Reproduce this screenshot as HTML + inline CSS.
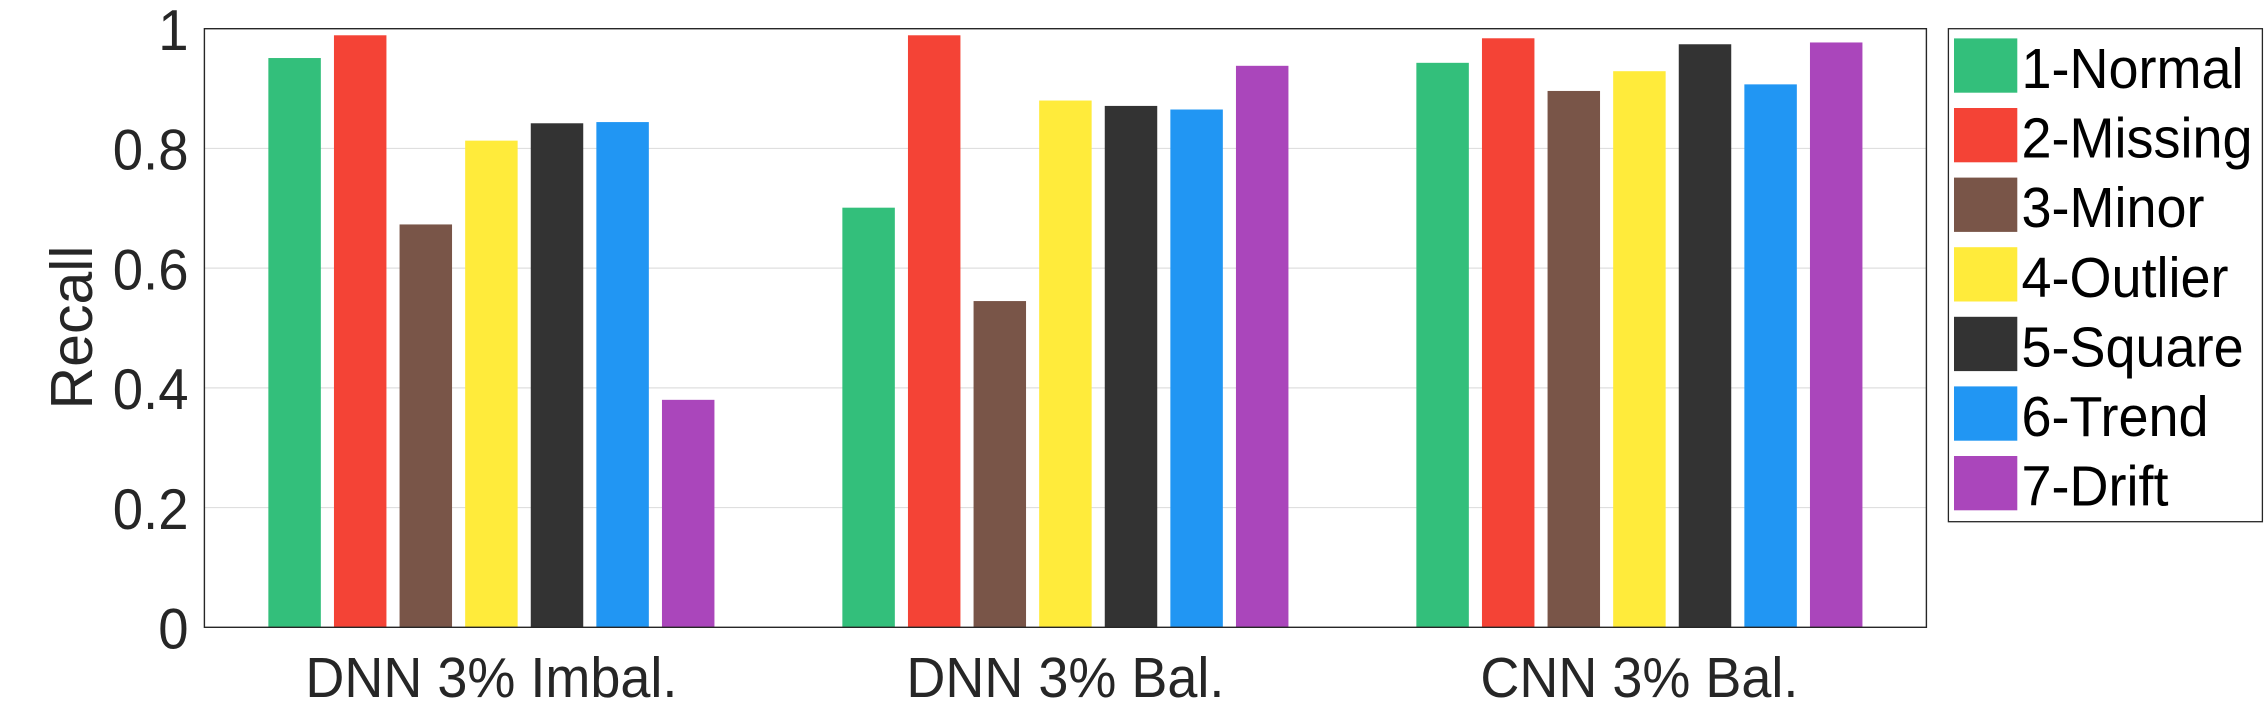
<!DOCTYPE html>
<html lang="en">
<head>
<meta charset="utf-8">
<title>Recall by class</title>
<style>
  html, body { margin: 0; padding: 0; background: #ffffff; }
  body { width: 2266px; height: 703px; overflow: hidden; }
  svg { display: block; font-family: "Liberation Sans", Arial, sans-serif; }
</style>
</head>
<body>
<svg id="chart" xmlns="http://www.w3.org/2000/svg" width="2266" height="703" viewBox="0 0 2266 703">
  <rect x="0" y="0" width="2266" height="703" fill="#ffffff"></rect>
  <g id="grid"></g>
  <g id="bars"></g>
  <rect x="204.4" y="28.7" width="1722" height="598.6" fill="none" stroke="#262626" stroke-width="1.4"></rect>
  <g id="yticks"></g>
  <g id="xticks"></g>
  <text transform="translate(92 327.5) rotate(-90)" text-anchor="middle" font-size="59" fill="#262626">Recall</text>
  <rect x="1948.4" y="28.7" width="314" height="493" fill="#ffffff" stroke="#262626" stroke-width="1.3"></rect>
  <g id="legend"></g>
</svg>
<script>
const groups = ["DNN 3% Imbal.", "DNN 3% Bal.", "CNN 3% Bal."];
const classNames = ["1-Normal", "2-Missing", "3-Minor", "4-Outlier", "5-Square", "6-Trend", "7-Drift"];
const normal = [0.951, 0.701, 0.943];
const missing = [0.989, 0.989, 0.984];
const minor = [0.673, 0.545, 0.896];
const outlier = [0.813, 0.880, 0.929];
const square = [0.842, 0.871, 0.974];
const trend = [0.844, 0.865, 0.907];
const drift = [0.380, 0.938, 0.977];
const yTickValues = [0, 0.2, 0.4, 0.6, 0.8, 1];
const yTickLabels = ["0", "0.2", "0.4", "0.6", "0.8", "1"];

const seriesValues = [normal, missing, minor, outlier, square, trend, drift];
const seriesColors = ["#33bf7b", "#f44336", "#795548", "#ffeb3b", "#333333", "#2196f3", "#aa46bb"];

const NS = "http://www.w3.org/2000/svg";
const plot = { left: 204.4, right: 1926.4, top: 28.7, bottom: 627.3 };
const textStretch = 1.05;

function xScale(g) {
  const span = plot.right - plot.left;
  return plot.left + (g + 0.5) * span / groups.length;
}
function yScale(v) {
  return plot.bottom - v * (plot.bottom - plot.top);
}
function make(tag, attrs, parent) {
  const el = document.createElementNS(NS, tag);
  for (const k in attrs) el.setAttribute(k, attrs[k]);
  parent.appendChild(el);
  return el;
}
function placed(x, y) {
  return "translate(" + x + " " + y + ") scale(1 " + textStretch + ")";
}

const groupPx = (plot.right - plot.left) / groups.length;
const slotPx = groupPx * 0.8 / classNames.length;
const barPx = slotPx * 0.8;

const gridLayer = document.getElementById("grid");
yTickValues.forEach(function (v) {
  if (v === 0 || v === 1) return;
  const line = make("line", { x1: plot.left, x2: plot.right, y1: yScale(v), y2: yScale(v), stroke: "#dfdfdf", "stroke-width": 1.2 }, gridLayer);
  
  
});

const barLayer = document.getElementById("bars");
seriesValues.forEach(function (values, s) {
  values.forEach(function (v, g) {
    const cx = xScale(g) + (s - (classNames.length - 1) / 2) * slotPx;
    const rect = make("rect", { x: cx - barPx / 2, y: yScale(v), width: barPx, height: yScale(0) - yScale(v), fill: seriesColors[s] }, barLayer);
    
    
  });
});

const yTickLayer = document.getElementById("yticks");
yTickValues.forEach(function (v, i) {
  const t = make("text", { transform: placed(188.5, yScale(v) + 21.3), "text-anchor": "end", "font-size": 54.5, fill: "#262626" }, yTickLayer);
  t.textContent = yTickLabels[i];
  
  
});

const xTickLayer = document.getElementById("xticks");
groups.forEach(function (name, g) {
  const t = make("text", { transform: placed(xScale(g), 697), "text-anchor": "middle", "font-size": 54, fill: "#262626" }, xTickLayer);
  t.textContent = name;
  
  
});

const legendLayer = document.getElementById("legend");
classNames.forEach(function (name, i) {
  const pitch = 69.6;
  const swatch = make("rect", { x: 1954, y: 38.4 + i * pitch, width: 63.3, height: 54.3, fill: seriesColors[i] }, legendLayer);
  
  
  const label = make("text", { transform: placed(2021.5, 88 + i * pitch), "font-size": 54, fill: "#000000" }, legendLayer);
  label.textContent = name;
  
  
});
</script>
</body>
</html>
